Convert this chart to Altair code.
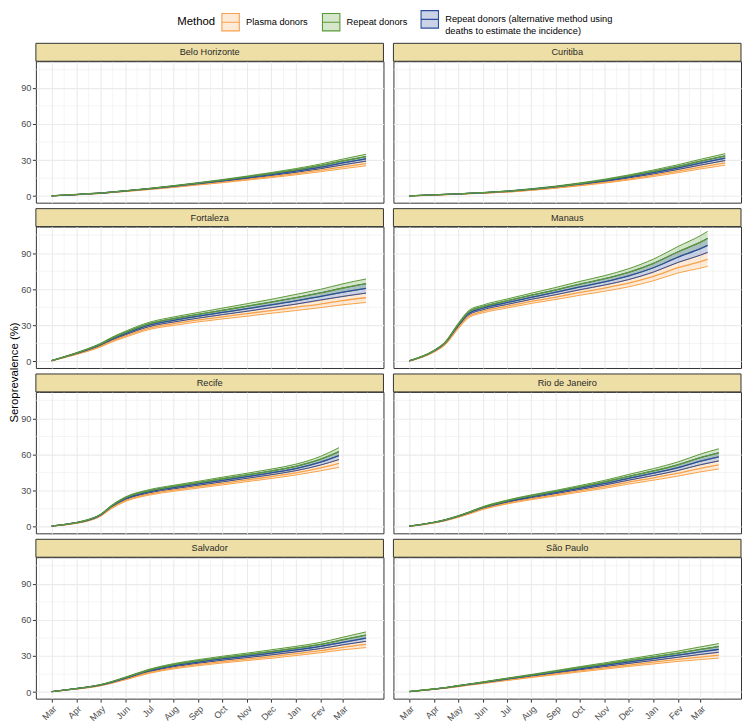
import altair as alt
import pandas as pd

# ---------------- data ----------------
CITIES = ["Belo Horizonte", "Curitiba", "Fortaleza", "Manaus",
          "Recife", "Rio de Janeiro", "Salvador", "São Paulo"]
METHODS = ["Plasma donors", "Repeat donors",
           "Repeat donors (alternative method using deaths to estimate the incidence)"]

DATES = ["2020-03-01", "2020-04-01", "2020-04-15", "2020-05-01", "2020-05-15",
         "2020-06-01", "2020-07-01", "2020-08-01", "2020-09-01", "2020-10-01",
         "2020-11-01", "2020-12-01", "2021-01-01", "2021-02-01", "2021-03-01"]
END_DATES = {"Belo Horizonte": "2021-03-30", "Curitiba": "2021-04-01",
             "Fortaleza": "2021-03-30", "Manaus": "2021-03-10",
             "Recife": "2021-02-24", "Rio de Janeiro": "2021-03-24",
             "Salvador": "2021-03-30", "São Paulo": "2021-03-24"}

# central estimates per method and half-width of the band (percent)
BH_PLASMA = [0.3, 1.2, 1.8, 2.4, 3.1, 4.0, 5.7, 7.6, 9.7, 11.7, 14.0, 16.2, 18.7, 21.6, 24.4, 27.1]
BH_REPEAT = [0.3, 1.4, 2.0, 2.6, 3.4, 4.4, 6.3, 8.5, 10.9, 13.3, 16.0, 18.8, 21.9, 25.4, 29.2, 32.9]
BH_ALT = [0.3, 1.3, 1.9, 2.5, 3.3, 4.3, 6.1, 8.2, 10.5, 12.8, 15.3, 17.9, 20.8, 24.1, 27.6, 31.0]
BH_HW = [0.0, 0.0, 0.1, 0.1, 0.1, 0.1, 0.2, 0.3, 0.4, 0.5, 0.7, 0.8, 1.0, 1.3, 1.6, 1.9]

CUR_PLASMA = [0.3, 0.9, 1.3, 1.7, 2.1, 2.5, 3.5, 5.1, 7.0, 9.1, 11.5, 14.2, 17.4, 20.8, 24.2, 27.6]
CUR_REPEAT = [0.3, 1.1, 1.5, 1.9, 2.4, 2.9, 4.1, 5.9, 8.0, 10.5, 13.5, 16.8, 20.6, 24.8, 29.0, 33.4]
CUR_ALT = [0.3, 1.0, 1.4, 1.8, 2.3, 2.8, 3.9, 5.6, 7.7, 10.0, 12.8, 15.9, 19.5, 23.5, 27.4, 31.5]
CUR_HW = [0.0, 0.0, 0.1, 0.1, 0.1, 0.1, 0.2, 0.3, 0.4, 0.5, 0.6, 0.8, 1.1, 1.3, 1.6, 1.9]

FOR_PLASMA = [0.6, 6.1, 8.8, 12.6, 16.8, 21.0, 27.7, 31.4, 34.5, 37.1, 39.7, 42.3, 45.0, 47.7, 50.6, 52.9]
FOR_REPEAT = [0.8, 7.0, 10.2, 14.4, 19.2, 24.0, 31.3, 35.6, 39.1, 42.5, 45.9, 49.3, 53.0, 56.9, 61.0, 64.6]
FOR_ALT = [0.7, 6.7, 9.7, 13.8, 18.4, 23.0, 30.1, 34.2, 37.6, 40.7, 43.8, 47.0, 50.3, 54.1, 57.5, 60.7]
FOR_HW = [0.0, 0.3, 0.4, 0.6, 0.8, 1.0, 1.2, 1.4, 1.6, 1.8, 2.1, 2.3, 2.7, 3.0, 3.5, 3.9]

MAN_PLASMA = [0.4, 8.1, 14.3, 27.7, 37.7, 41.6, 45.8, 49.9, 53.5, 57.3, 60.9, 65.0, 70.6, 77.9, 82.9, 84.8]
MAN_REPEAT = [0.6, 9.0, 15.8, 30.4, 41.3, 45.5, 50.3, 55.0, 59.5, 64.2, 68.7, 74.0, 81.4, 91.1, 99.1, 102.2]
MAN_ALT = [0.5, 8.7, 15.3, 29.5, 40.1, 44.2, 48.8, 53.3, 57.5, 61.9, 66.1, 71.0, 77.8, 86.7, 93.7, 96.4]
MAN_HW = [0.1, 0.3, 0.5, 0.9, 1.2, 1.3, 1.5, 1.7, 2.0, 2.3, 2.6, 3.0, 3.6, 4.4, 5.4, 5.8]

REC_PLASMA = [0.5, 3.1, 4.9, 9.0, 15.7, 21.7, 27.2, 30.5, 33.3, 36.1, 38.9, 41.7, 44.8, 48.9, 52.6]
REC_REPEAT = [0.7, 3.5, 5.7, 10.0, 17.3, 23.9, 29.9, 33.5, 36.7, 39.9, 43.1, 46.3, 50.2, 56.1, 62.4]
REC_ALT = [0.6, 3.4, 5.4, 9.7, 16.8, 23.2, 29.0, 32.5, 35.6, 38.6, 41.7, 44.8, 48.4, 53.7, 59.1]
REC_HW = [0.0, 0.2, 0.2, 0.4, 0.6, 0.8, 0.9, 1.0, 1.1, 1.3, 1.4, 1.6, 1.8, 2.4, 3.3]

RIO_PLASMA = [0.4, 3.3, 5.2, 8.1, 11.0, 14.8, 19.5, 23.3, 26.6, 29.9, 33.3, 37.1, 40.6, 44.5, 48.6, 51.4]
RIO_REPEAT = [0.6, 3.7, 5.8, 8.9, 12.0, 16.2, 21.5, 25.7, 29.4, 33.2, 37.3, 41.9, 46.4, 51.5, 57.4, 61.4]
RIO_ALT = [0.5, 3.6, 5.6, 8.6, 11.7, 15.7, 20.8, 24.9, 28.5, 32.1, 36.0, 40.3, 44.5, 49.2, 54.5, 58.1]
RIO_HW = [0.0, 0.1, 0.2, 0.3, 0.4, 0.5, 0.6, 0.8, 0.9, 1.1, 1.3, 1.6, 1.9, 2.4, 3.0, 3.4]

SAL_PLASMA = [0.4, 2.7, 3.8, 5.5, 7.6, 10.6, 16.3, 20.2, 23.0, 25.3, 27.4, 29.5, 31.9, 34.4, 37.2, 39.6]
SAL_REPEAT = [0.4, 3.0, 4.2, 6.1, 8.5, 12.0, 18.3, 22.8, 26.0, 28.7, 31.2, 33.7, 36.5, 39.6, 43.5, 47.4]
SAL_ALT = [0.4, 2.9, 4.1, 5.9, 8.2, 11.5, 17.6, 21.9, 25.0, 27.6, 29.9, 32.3, 35.0, 37.9, 41.4, 44.8]
SAL_HW = [0.0, 0.1, 0.2, 0.2, 0.3, 0.4, 0.7, 0.9, 1.0, 1.1, 1.2, 1.4, 1.5, 1.7, 2.1, 2.6]

SP_PLASMA = [0.5, 2.4, 3.3, 4.7, 6.0, 7.4, 10.0, 12.6, 15.2, 17.7, 20.1, 22.5, 24.9, 27.2, 29.1, 30.7]
SP_REPEAT = [0.5, 2.6, 3.7, 5.3, 6.6, 8.2, 11.2, 14.2, 17.3, 20.3, 23.3, 26.3, 29.3, 32.4, 35.5, 37.9]
SP_ALT = [0.5, 2.5, 3.6, 5.1, 6.4, 7.9, 10.8, 13.7, 16.6, 19.4, 22.2, 25.0, 27.8, 30.7, 33.4, 35.5]
SP_HW = [0.0, 0.1, 0.1, 0.2, 0.2, 0.3, 0.4, 0.5, 0.7, 0.9, 1.0, 1.2, 1.5, 1.7, 2.1, 2.4]

SERIES = {
    "Belo Horizonte": (BH_PLASMA, BH_REPEAT, BH_ALT, BH_HW),
    "Curitiba": (CUR_PLASMA, CUR_REPEAT, CUR_ALT, CUR_HW),
    "Fortaleza": (FOR_PLASMA, FOR_REPEAT, FOR_ALT, FOR_HW),
    "Manaus": (MAN_PLASMA, MAN_REPEAT, MAN_ALT, MAN_HW),
    "Recife": (REC_PLASMA, REC_REPEAT, REC_ALT, REC_HW),
    "Rio de Janeiro": (RIO_PLASMA, RIO_REPEAT, RIO_ALT, RIO_HW),
    "Salvador": (SAL_PLASMA, SAL_REPEAT, SAL_ALT, SAL_HW),
    "São Paulo": (SP_PLASMA, SP_REPEAT, SP_ALT, SP_HW),
}

TICKS = ["2020-03-01", "2020-04-01", "2020-05-01", "2020-06-01", "2020-07-01",
         "2020-08-01", "2020-09-01", "2020-10-01", "2020-11-01", "2020-12-01",
         "2021-01-01", "2021-02-01", "2021-03-01"]
TICK_LABELS = ["Mar", "Apr", "May", "Jun", "Jul", "Aug", "Sep", "Oct", "Nov",
               "Dec", "Jan", "Fev", "Mar"]
Y_TICKS = [0, 30, 60, 90]
Y_MINOR = [15, 45, 75, 105]

# ---------------- style ----------------
LINE_COLORS = ["#F7A24B", "#5A9A36", "#2C4E9E"]
FILL_COLORS = ["rgba(247,162,75,0.22)", "rgba(90,154,54,0.25)", "rgba(44,78,158,0.25)"]
STRIP_FILL = "#EEDFA6"
BORDER = "#333333"
GRID = "#EBEBEB"
FONT = "Liberation Sans"
W, H, STRIP_H = 349, 142, 18
Y_DOMAIN = [-5.4, 112.0]


def ms(d):
    return int(pd.Timestamp(d, tz="UTC").value // 10**6)


def city_dates(city):
    base = DATES if city != "Recife" else DATES[:-1]
    return base + [END_DATES[city]]


all_ms = [ms(d) for c in CITIES for d in city_dates(c)]
span = max(all_ms) - min(all_ms)
X_DOMAIN = [min(all_ms) - 0.05 * span, max(all_ms) + 0.05 * span]

TICK_MS = [ms(d) for d in TICKS]
step = TICK_MS[1] - TICK_MS[0]
ext = [TICK_MS[0] - step] + TICK_MS + [TICK_MS[-1] + step]
MINOR_MS = [(a + b) / 2 for a, b in zip(ext[:-1], ext[1:])] + [ext[-1]]
MINOR_MS = [m for m in MINOR_MS if X_DOMAIN[0] <= m <= X_DOMAIN[1]]

month_names = [""] * 12
for d, lab in zip(TICKS, TICK_LABELS):
    month_names[pd.Timestamp(d).month - 1] = lab
X_LABEL_EXPR = "[" + ",".join("'%s'" % m for m in month_names) + "][utcmonth(datum.value)]"

long_label = METHODS[2]
cut = long_label.index("using") + len("using")
LEGEND_EXPR = ("datum.label == '%s' ? ['%s', '%s'] : datum.label"
               % (long_label, long_label[:cut], long_label[cut + 1:]))

legend = alt.Legend(
    title="Method", orient="none", legendX=142, legendY=-52,
    direction="horizontal", columns=3, titleOrient="left", titleAnchor="middle",
    titleBaseline="middle",
    symbolType="M-1,-1H1V1H-1Z M-1,0H1", symbolSize=306, symbolStrokeWidth=1.1,
    symbolOpacity=1,
    labelFontSize=9.3, labelColor="#000000", labelFont=FONT, labelLimit=400,
    labelExpr=LEGEND_EXPR, columnPadding=11, labelOffset=6,
    titleFontSize=11.4, titleFontWeight="normal", titleColor="#000000",
    titleFont=FONT, titlePadding=6, padding=0,
)
fill_scale = alt.Scale(domain=METHODS, range=FILL_COLORS)
stroke_scale = alt.Scale(domain=METHODS, range=LINE_COLORS)
MID_ORDER = [METHODS[0], METHODS[2], METHODS[1]]


def frames(city):
    dates = city_dates(city)
    pl, rp, al, hw = SERIES[city]
    by_method = dict(zip(METHODS, [pl, rp, al]))
    area, edge, mid = [], [], []
    for meth in METHODS:
        mids = by_method[meth]
        for d, m, h in zip(dates, mids, hw):
            area.append(dict(t=ms(d), method=meth, lo=m - h, hi=m + h))
        for b, sgn in (("lo", -1), ("hi", 1)):
            for d, m, h in zip(dates, mids, hw):
                edge.append(dict(t=ms(d), method=meth, bound=b, v=m + sgn * h))
    for meth in MID_ORDER:
        for d, m in zip(dates, by_method[meth]):
            mid.append(dict(t=ms(d), method=meth, v=m))
    return pd.DataFrame(area), pd.DataFrame(edge), pd.DataFrame(mid)


def panel(city, idx):
    left = idx % 2 == 0
    bottom = idx // 2 == 3
    area_df, edge_df, mid_df = frames(city)
    xs = alt.Scale(type="utc", domain=X_DOMAIN, nice=False)
    ys = alt.Scale(domain=Y_DOMAIN, nice=False, zero=False)
    if bottom:
        xaxis = alt.Axis(values=TICK_MS, labelExpr=X_LABEL_EXPR, labelAngle=315,
                         labelAlign="right", labelBaseline="top", labelFontSize=9.2,
                         labelColor="#4D4D4D", labelFont=FONT, labelPadding=2,
                         labelOverlap=False, labelFlush=False,
                         tickColor=BORDER, tickSize=3.5, tickWidth=1,
                         domain=False, grid=True, gridColor=GRID, gridWidth=1.1, title=None)
    else:
        xaxis = alt.Axis(values=TICK_MS, labels=False, ticks=False, domain=False,
                         grid=True, gridColor=GRID, gridWidth=1.1, title=None)
    ytitle = "Seroprevalence (%)" if city == "Fortaleza" else None
    if left:
        ykw = dict(values=Y_TICKS, labelFontSize=9.2, labelColor="#4D4D4D",
                   labelFont=FONT, labelPadding=1.5, tickColor=BORDER, tickSize=3.5,
                   tickWidth=1, domain=False, grid=True, gridColor=GRID, gridWidth=1.1,
                   titleFontSize=11.4, titleFontWeight="normal", titleColor="#000000",
                   titleFont=FONT, titlePadding=1)
        if ytitle:
            yaxis = alt.Axis(title=ytitle, titleY=146, **ykw)
        else:
            yaxis = alt.Axis(title=None, **ykw)
    else:
        yaxis = alt.Axis(values=Y_TICKS, labels=False, ticks=False, domain=False,
                         grid=True, gridColor=GRID, gridWidth=1.1, title=None)

    X = alt.X("t:T", scale=xs, axis=xaxis)
    minor_x = alt.Chart(pd.DataFrame({"t": MINOR_MS})).mark_rule(
        color=GRID, strokeWidth=0.55).encode(x=X)
    minor_y = alt.Chart(pd.DataFrame({"v": Y_MINOR})).mark_rule(
        color=GRID, strokeWidth=0.55).encode(y=alt.Y("v:Q", scale=ys, axis=yaxis))
    area = alt.Chart(area_df).mark_area(interpolate="monotone", strokeWidth=0, opacity=1).encode(
        x=X,
        y=alt.Y("lo:Q", scale=ys, axis=yaxis),
        y2="hi:Q",
        fill=alt.Fill("method:N", scale=fill_scale, legend=legend, sort=METHODS),
        stroke=alt.Stroke("method:N", scale=stroke_scale, legend=legend, sort=METHODS),
    )
    edges = alt.Chart(edge_df).mark_line(interpolate="monotone", strokeWidth=1.0).encode(
        x=X,
        y=alt.Y("v:Q", scale=ys, axis=yaxis),
        stroke=alt.Stroke("method:N", scale=stroke_scale, legend=legend, sort=METHODS),
        detail="bound:N",
    )
    mids = alt.Chart(mid_df).mark_line(interpolate="monotone", strokeWidth=1.3).encode(
        x=X,
        y=alt.Y("v:Q", scale=ys, axis=yaxis),
        stroke=alt.Stroke("method:N", scale=stroke_scale, legend=legend, sort=METHODS),
    )
    lab = pd.DataFrame({"city": [city]})
    strip = alt.Chart(lab).mark_rect(fill=STRIP_FILL, stroke=BORDER, strokeWidth=1).encode(
        x=alt.value(0), x2=alt.value(W), y=alt.value(-STRIP_H), y2=alt.value(0))
    strip_txt = alt.Chart(lab).mark_text(fontSize=9.2, fontWeight=400, color="#2A2A2A",
                                         font=FONT, baseline="middle", align="center",
                                         strokeWidth=0).encode(
        text="city:N", x=alt.value(W / 2), y=alt.value(-STRIP_H / 2))
    return alt.layer(minor_x, minor_y, area, edges, mids, strip, strip_txt).properties(
        width=W, height=H)


panels = [panel(c, i) for i, c in enumerate(CITIES)]
chart = alt.concat(*panels, columns=2, spacing={"row": 24, "column": 10},
                   bounds="flush").configure(
    font=FONT, padding={"left": 0, "top": 0, "right": 0, "bottom": 0}
).configure_view(stroke=BORDER, strokeWidth=1, fill="white")

chart.save("out.html", embed_options={"renderer": "svg", "actions": False})
